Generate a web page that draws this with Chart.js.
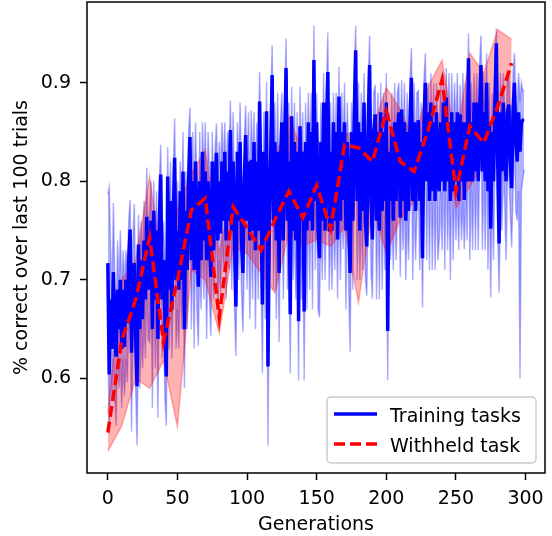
<!DOCTYPE html>
<html>
<head>
<meta charset="utf-8">
<script src="https://cdn.jsdelivr.net/npm/chart.js@4.4.1/dist/chart.umd.min.js"></script>
<style>
  html, body { margin: 0; padding: 0; background: #fff; }
  #wrap { width: 552px; height: 536px; position: relative; }
</style>
</head>
<body>
<div id="wrap"><canvas id="lineChart"></canvas></div>
<script>
// training tasks, mean over tasks, one value per generation (0..299)
const blueMean = [
  0.717, 0.604, 0.680, 0.630, 0.708, 0.640, 0.622, 0.690, 0.650, 0.700,
  0.630, 0.690, 0.632, 0.700, 0.656, 0.720, 0.751, 0.626, 0.700, 0.717,
  0.640, 0.592, 0.736, 0.650, 0.720, 0.660, 0.740, 0.680, 0.764, 0.690,
  0.707, 0.760, 0.650, 0.770, 0.680, 0.750, 0.640, 0.760, 0.807, 0.680,
  0.720, 0.660, 0.602, 0.805, 0.690, 0.780, 0.670, 0.760, 0.824, 0.700,
  0.750, 0.690, 0.790, 0.700, 0.810, 0.650, 0.770, 0.710, 0.800, 0.845,
  0.720, 0.800, 0.710, 0.820, 0.740, 0.693, 0.800, 0.720, 0.830, 0.740,
  0.810, 0.720, 0.800, 0.750, 0.703, 0.820, 0.730, 0.790, 0.829, 0.740,
  0.800, 0.747, 0.820, 0.760, 0.830, 0.740, 0.810, 0.760, 0.852, 0.750,
  0.820, 0.740, 0.673, 0.830, 0.760, 0.840, 0.740, 0.707, 0.800, 0.847,
  0.760, 0.820, 0.740, 0.822, 0.750, 0.840, 0.730, 0.820, 0.750, 0.881,
  0.780, 0.675, 0.830, 0.740, 0.871, 0.612, 0.760, 0.830, 0.908, 0.760,
  0.840, 0.740, 0.830, 0.707, 0.820, 0.860, 0.740, 0.840, 0.915, 0.760,
  0.820, 0.665, 0.866, 0.750, 0.840, 0.740, 0.830, 0.658, 0.856, 0.760,
  0.830, 0.668, 0.840, 0.750, 0.860, 0.760, 0.850, 0.750, 0.923, 0.780,
  0.860, 0.750, 0.722, 0.840, 0.760, 0.880, 0.750, 0.850, 0.911, 0.749,
  0.830, 0.750, 0.860, 0.760, 0.850, 0.741, 0.886, 0.760, 0.850, 0.781,
  0.860, 0.750, 0.840, 0.760, 0.707, 0.850, 0.760, 0.870, 0.933, 0.780,
  0.860, 0.750, 0.850, 0.770, 0.880, 0.760, 0.734, 0.860, 0.918, 0.780,
  0.741, 0.850, 0.868, 0.760, 0.850, 0.750, 0.870, 0.770, 0.850, 0.780,
  0.880, 0.648, 0.830, 0.780, 0.850, 0.760, 0.860, 0.780, 0.850, 0.870,
  0.763, 0.873, 0.780, 0.860, 0.760, 0.850, 0.770, 0.860, 0.905, 0.780,
  0.860, 0.770, 0.850, 0.862, 0.780, 0.840, 0.722, 0.860, 0.900, 0.800,
  0.870, 0.780, 0.880, 0.790, 0.860, 0.780, 0.870, 0.800, 0.790, 0.860,
  0.800, 0.880, 0.790, 0.885, 0.800, 0.860, 0.780, 0.870, 0.790, 0.860,
  0.800, 0.870, 0.780, 0.868, 0.800, 0.860, 0.781, 0.860, 0.800, 0.925,
  0.800, 0.860, 0.800, 0.880, 0.810, 0.880, 0.800, 0.870, 0.918, 0.810,
  0.870, 0.800, 0.900, 0.790, 0.860, 0.752, 0.850, 0.800, 0.880, 0.940,
  0.820, 0.737, 0.870, 0.810, 0.880, 0.830, 0.800, 0.870, 0.878, 0.820,
  0.793, 0.870, 0.900, 0.840, 0.820, 0.870, 0.830, 0.860, 0.862, 0.862
];
// how far the training-task band reaches above the mean
const blueUp = [
  0.07, 0.19, 0.05, 0.05, 0.07, 0.06, 0.03, 0.05, 0.04, 0.05,
  0.05, 0.04, 0.06, 0.03, 0.05, 0.04, 0.03, 0.05, 0.04, 0.06,
  0.04, 0.05, 0.03, 0.06, 0.04, 0.05, 0.04, 0.06, 0.05, 0.04,
  0.06, 0.04, 0.05, 0.03, 0.05, 0.04, 0.06, 0.04, 0.03, 0.05,
  0.04, 0.06, 0.05, 0.03, 0.05, 0.04, 0.06, 0.05, 0.04, 0.05,
  0.05, 0.04, 0.03, 0.06, 0.04, 0.05, 0.04, 0.06, 0.05, 0.03,
  0.04, 0.05, 0.06, 0.04, 0.05, 0.03, 0.05, 0.04, 0.03, 0.06,
  0.05, 0.04, 0.05, 0.06, 0.04, 0.03, 0.05, 0.04, 0.03, 0.05,
  0.04, 0.06, 0.04, 0.05, 0.03, 0.05, 0.04, 0.06, 0.03, 0.05,
  0.05, 0.04, 0.06, 0.03, 0.05, 0.04, 0.06, 0.05, 0.04, 0.03,
  0.04, 0.05, 0.04, 0.05, 0.06, 0.03, 0.05, 0.04, 0.06, 0.03,
  0.05, 0.06, 0.04, 0.05, 0.03, 0.05, 0.04, 0.05, 0.03, 0.06,
  0.04, 0.05, 0.06, 0.05, 0.04, 0.03, 0.05, 0.04, 0.03, 0.05,
  0.06, 0.04, 0.03, 0.05, 0.04, 0.05, 0.04, 0.06, 0.04, 0.05,
  0.04, 0.05, 0.04, 0.06, 0.03, 0.05, 0.04, 0.05, 0.035, 0.04,
  0.03, 0.05, 0.06, 0.04, 0.05, 0.03, 0.05, 0.04, 0.04, 0.05,
  0.05, 0.04, 0.03, 0.05, 0.04, 0.06, 0.03, 0.05, 0.04, 0.05,
  0.04, 0.05, 0.04, 0.06, 0.05, 0.03, 0.05, 0.04, 0.025, 0.05,
  0.04, 0.05, 0.04, 0.05, 0.03, 0.05, 0.06, 0.04, 0.03, 0.05,
  0.06, 0.04, 0.03, 0.05, 0.04, 0.05, 0.03, 0.05, 0.04, 0.05,
  0.03, 0.06, 0.04, 0.05, 0.04, 0.05, 0.04, 0.05, 0.04, 0.03,
  0.05, 0.03, 0.05, 0.04, 0.06, 0.04, 0.05, 0.04, 0.03, 0.05,
  0.04, 0.05, 0.04, 0.03, 0.05, 0.04, 0.06, 0.04, 0.03, 0.04,
  0.03, 0.05, 0.03, 0.05, 0.04, 0.05, 0.03, 0.05, 0.06, 0.04,
  0.05, 0.03, 0.05, 0.03, 0.04, 0.05, 0.05, 0.04, 0.05, 0.04,
  0.05, 0.04, 0.05, 0.03, 0.04, 0.05, 0.05, 0.04, 0.05, 0.025,
  0.05, 0.04, 0.05, 0.03, 0.05, 0.03, 0.04, 0.05, 0.03, 0.05,
  0.04, 0.05, 0.03, 0.05, 0.04, 0.06, 0.04, 0.05, 0.04, 0.015,
  0.04, 0.06, 0.04, 0.05, 0.03, 0.04, 0.05, 0.04, 0.03, 0.05,
  0.05, 0.04, 0.03, 0.04, 0.05, 0.04, 0.05, 0.04, 0.03, 0.03
];
// how far the training-task band reaches below the mean
const blueDown = [
  0.06, 0.06, 0.07, 0.05, 0.08, 0.06, 0.07, 0.05, 0.06, 0.08,
  0.06, 0.07, 0.05, 0.08, 0.06, 0.07, 0.05, 0.08, 0.06, 0.07,
  0.05, 0.06, 0.08, 0.06, 0.07, 0.05, 0.08, 0.06, 0.07, 0.05,
  0.07, 0.06, 0.08, 0.05, 0.07, 0.06, 0.08, 0.05, 0.07, 0.06,
  0.06, 0.08, 0.05, 0.07, 0.06, 0.08, 0.05, 0.07, 0.06, 0.07,
  0.08, 0.06, 0.07, 0.05, 0.08, 0.06, 0.07, 0.06, 0.08, 0.06,
  0.07, 0.05, 0.08, 0.06, 0.07, 0.06, 0.08, 0.05, 0.07, 0.06,
  0.06, 0.08, 0.05, 0.07, 0.06, 0.07, 0.05, 0.08, 0.06, 0.07,
  0.08, 0.06, 0.07, 0.05, 0.08, 0.06, 0.07, 0.05, 0.07, 0.06,
  0.06, 0.07, 0.05, 0.08, 0.06, 0.07, 0.05, 0.06, 0.08, 0.06,
  0.07, 0.05, 0.08, 0.06, 0.07, 0.05, 0.08, 0.06, 0.07, 0.05,
  0.06, 0.07, 0.05, 0.08, 0.06, 0.08, 0.05, 0.07, 0.06, 0.07,
  0.05, 0.08, 0.06, 0.07, 0.05, 0.07, 0.06, 0.08, 0.06, 0.07,
  0.08, 0.06, 0.07, 0.05, 0.08, 0.06, 0.07, 0.06, 0.05, 0.08,
  0.06, 0.07, 0.05, 0.08, 0.06, 0.07, 0.05, 0.08, 0.06, 0.07,
  0.05, 0.08, 0.06, 0.07, 0.06, 0.08, 0.05, 0.07, 0.06, 0.06,
  0.07, 0.06, 0.08, 0.05, 0.07, 0.06, 0.08, 0.06, 0.07, 0.05,
  0.06, 0.08, 0.05, 0.07, 0.08, 0.06, 0.07, 0.05, 0.06, 0.08,
  0.07, 0.05, 0.08, 0.06, 0.07, 0.06, 0.05, 0.08, 0.06, 0.07,
  0.06, 0.07, 0.05, 0.08, 0.06, 0.07, 0.05, 0.08, 0.06, 0.07,
  0.08, 0.05, 0.07, 0.06, 0.08, 0.05, 0.07, 0.06, 0.08, 0.05,
  0.06, 0.08, 0.05, 0.07, 0.06, 0.08, 0.05, 0.07, 0.06, 0.08,
  0.07, 0.05, 0.08, 0.06, 0.07, 0.06, 0.05, 0.07, 0.06, 0.08,
  0.05, 0.07, 0.06, 0.08, 0.05, 0.07, 0.06, 0.08, 0.05, 0.07,
  0.07, 0.06, 0.08, 0.05, 0.07, 0.06, 0.08, 0.05, 0.07, 0.06,
  0.06, 0.08, 0.05, 0.07, 0.06, 0.08, 0.05, 0.07, 0.06, 0.05,
  0.08, 0.06, 0.07, 0.05, 0.08, 0.06, 0.07, 0.05, 0.06, 0.08,
  0.06, 0.07, 0.05, 0.08, 0.06, 0.07, 0.05, 0.08, 0.06, 0.07,
  0.07, 0.05, 0.08, 0.06, 0.07, 0.05, 0.08, 0.06, 0.07, 0.05,
  0.06, 0.08, 0.05, 0.07, 0.06, 0.08, 0.23, 0.07, 0.06, 0.05
];
// withheld task, evaluated every 10 generations
const redGens = [0, 10, 20, 30, 40, 50, 60, 70, 80, 90, 100, 110, 120, 130, 140,
  150, 160, 170, 180, 190, 200, 210, 220, 230, 240, 250, 260, 270, 280, 290];
const redMean = [0.545, 0.639, 0.680, 0.743, 0.637, 0.700, 0.771, 0.783, 0.662, 0.774,
  0.753, 0.730, 0.761, 0.790, 0.763, 0.796, 0.752, 0.837, 0.834, 0.820,
  0.871, 0.820, 0.810, 0.852, 0.903, 0.790, 0.856, 0.839, 0.876, 0.920];
const redLo = [0.526, 0.552, 0.600, 0.590, 0.618, 0.551, 0.710, 0.700, 0.646, 0.734,
  0.727, 0.707, 0.687, 0.748, 0.734, 0.741, 0.734, 0.754, 0.677, 0.774,
  0.727, 0.761, 0.780, 0.815, 0.852, 0.773, 0.795, 0.819, 0.829, 0.849];
const redHi = [0.565, 0.700, 0.720, 0.805, 0.700, 0.771, 0.808, 0.832, 0.727, 0.798,
  0.800, 0.800, 0.822, 0.866, 0.829, 0.849, 0.774, 0.849, 0.847, 0.852,
  0.895, 0.873, 0.839, 0.896, 0.923, 0.839, 0.930, 0.910, 0.954, 0.944];

const xTicks = [0, 50, 100, 150, 200, 250, 300];
const yTicks = [0.6, 0.7, 0.8, 0.9];
const legendOrder = ['Training tasks', 'Withheld task'];

const gens = blueMean.map((v, i) => i);
const pts = (xs, ys) => ys.map((y, i) => ({ x: xs[i], y: y }));

Chart.defaults.font.family = "'DejaVu Sans', sans-serif";
Chart.defaults.font.size = 19;
Chart.defaults.color = '#000';

// box round the plot, like matplotlib spines
const spines = {
  id: 'spines',
  afterDatasetsDraw(chart) {
    const a = chart.chartArea;
    const ctx = chart.ctx;
    ctx.save();
    ctx.strokeStyle = '#000';
    ctx.lineWidth = 1.5;
    ctx.strokeRect(a.left, a.top, a.right - a.left, a.bottom - a.top);
    ctx.restore();
  }
};

// legend inside the plot, lower right
const innerLegend = {
  id: 'innerLegend',
  afterDraw(chart) {
    const a = chart.chartArea;
    const ctx = chart.ctx;
    const items = legendOrder.map(name => chart.data.datasets.find(d => d.label === name));
    const w = 209, h = 66;
    const x0 = a.right - 9 - w, y0 = a.bottom - 10 - h;
    ctx.save();
    ctx.beginPath();
    ctx.roundRect(x0, y0, w, h, 4);
    ctx.fillStyle = 'rgba(255,255,255,0.8)';
    ctx.fill();
    ctx.strokeStyle = '#cccccc';
    ctx.lineWidth = 1.5;
    ctx.stroke();
    items.forEach((d, i) => {
      const cy = y0 + 17 + i * 30;
      ctx.beginPath();
      ctx.setLineDash(d.borderDash || []);
      ctx.strokeStyle = d.borderColor;
      ctx.lineWidth = d.borderWidth;
      ctx.moveTo(x0 + 7, cy);
      ctx.lineTo(x0 + 50, cy);
      ctx.stroke();
      ctx.setLineDash([]);
      ctx.fillStyle = '#000';
      ctx.font = "19px 'DejaVu Sans'";
      ctx.textBaseline = 'alphabetic';
      ctx.fillText(d.label, x0 + 63, cy + 7.5);
    });
    ctx.restore();
  }
};

const ctx = document.getElementById('lineChart');
const lineChart = new Chart(ctx, {
  type: 'line',
  data: {
    datasets: [
      {
        label: 'Withheld task',
        data: pts(redGens, redMean),
        borderColor: '#ff0000',
        borderWidth: 3.5,
        borderDash: [11, 5],
        fill: false,
        order: 0
      },
      {
        label: 'Training tasks',
        data: pts(gens, blueMean),
        borderColor: '#0000ff',
        borderWidth: 3.5,
        fill: false,
        order: 1
      },
      {
        label: 'red hi',
        data: pts(redGens, redHi),
        borderColor: 'rgba(255,0,0,0.3)',
        borderWidth: 1.5,
        backgroundColor: 'rgba(255,0,0,0.3)',
        fill: 3,
        order: 2
      },
      {
        label: 'red lo',
        data: pts(redGens, redLo),
        borderColor: 'rgba(255,0,0,0.3)',
        borderWidth: 1.5,
        fill: false,
        order: 3
      },
      {
        label: 'blue hi',
        data: pts(gens, blueMean.map((v, i) => v + blueUp[i])),
        borderColor: 'rgba(0,0,255,0.3)',
        borderWidth: 1.5,
        backgroundColor: 'rgba(0,0,255,0.3)',
        fill: 5,
        order: 4
      },
      {
        label: 'blue lo',
        data: pts(gens, blueMean.map((v, i) => v - blueDown[i])),
        borderColor: 'rgba(0,0,255,0.3)',
        borderWidth: 1.5,
        fill: false,
        order: 5
      }
    ]
  },
  options: {
    responsive: true,
    maintainAspectRatio: false,
    animation: false,
    layout: { padding: { left: 0, right: 7, top: 2, bottom: 0 } },
    elements: { point: { radius: 0 }, line: { tension: 0 } },
    plugins: {
      legend: { display: false },
      tooltip: { enabled: false },
      filler: { propagate: false }
    },
    scales: {
      x: {
        type: 'linear',
        min: -14.95,
        max: 313.95,
        afterBuildTicks: axis => { axis.ticks = xTicks.map(v => ({ value: v })); },
        afterFit: axis => { axis.height = 63; axis.paddingLeft = 0; axis.paddingRight = 0; },
        grid: { drawOnChartArea: false, tickLength: 7, tickWidth: 1.5, tickColor: '#000' },
        border: { display: false },
        ticks: { padding: 8, maxRotation: 0, autoSkip: false },
        title: { display: true, text: 'Generations', padding: { top: 0, bottom: 0 } }
      },
      y: {
        min: 0.504,
        max: 0.982,
        afterBuildTicks: axis => { axis.ticks = yTicks.map(v => ({ value: v })); },
        afterFit: axis => { axis.width = 87; axis.paddingTop = 0; axis.paddingBottom = 0; },
        grid: { drawOnChartArea: false, tickLength: 7, tickWidth: 1.5, tickColor: '#000' },
        border: { display: false },
        ticks: { padding: 9, callback: v => v.toFixed(1) },
        title: { display: true, text: '% correct over last 100 trials', padding: { top: 11, bottom: 0 } }
      }
    }
  },
  plugins: [spines, innerLegend]
});
</script>
</body>
</html>
